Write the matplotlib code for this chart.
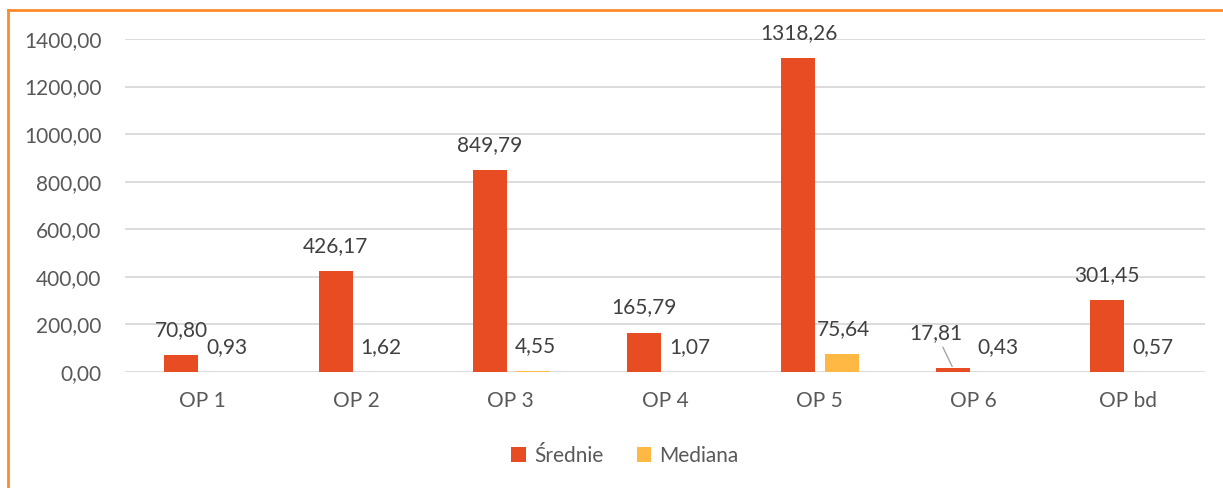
"""Wykres: średnie i mediany dla grup OP"""
import matplotlib.pyplot as plt
import numpy as np
from matplotlib.lines import Line2D

plt.rcParams['font.family'] = ['Lato', 'DejaVu Sans']

# Dane
kategorie = ['OP 1', 'OP 2', 'OP 3', 'OP 4', 'OP 5', 'OP 6', 'OP bd']
srednie = [70.80, 426.17, 849.79, 165.79, 1318.26, 17.81, 301.45]
mediana = [0.93, 1.62, 4.55, 1.07, 75.64, 0.43, 0.57]


def fmt(v):
    return f'{v:.2f}'.replace('.', ',')


fig = plt.figure(figsize=(12.23, 4.88), dpi=100)
ax = fig.add_axes([125 / 1223, 1 - 372 / 488, 1080 / 1223, 333 / 488])

x = np.arange(len(kategorie))
szer = 0.22
kol_sr = '#E84C22'
kol_me = '#FFB844'

b1 = ax.bar(x - 0.135, srednie, width=szer, color=kol_sr, label='Średnie', zorder=3)
b2 = ax.bar(x + 0.145, mediana, width=szer, color=kol_me, label='Mediana', zorder=3)

ax.set_xlim(-0.5, len(kategorie) - 0.5)
ax.set_ylim(0, 1400)
ax.set_yticks(np.arange(0, 1401, 200))
ax.set_yticklabels([fmt(v) for v in np.arange(0, 1401, 200)])
ax.set_xticks(x)
ax.set_xticklabels(kategorie)
ax.tick_params(axis='both', length=0, colors='#595959', labelsize=15)
ax.tick_params(axis='y', pad=17)
ax.tick_params(axis='x', pad=14)
ax.grid(axis='y', color='#D9D9D9', linewidth=1.3, zorder=0)
for s in ax.spines.values():
    s.set_visible(False)

# Etykiety danych
for i, v in enumerate(srednie):
    if kategorie[i] == 'OP 6':
        ax.annotate(fmt(v), xy=(x[i] - 0.135, v), xytext=(-12, 25),
                    textcoords='offset points', ha='center', va='center',
                    fontsize=15, color='#404040',
                    arrowprops=dict(arrowstyle='-', color='#A6A6A6', lw=1,
                                    shrinkA=1, shrinkB=1))
    else:
        ax.annotate(fmt(v), xy=(x[i] - 0.135, v), xytext=(0, 18),
                    textcoords='offset points', ha='center', va='center',
                    fontsize=15, color='#404040')
for i, v in enumerate(mediana):
    ax.annotate(fmt(v), xy=(x[i] + 0.16, v), xytext=(0, 18),
                textcoords='offset points', ha='center', va='center',
                fontsize=15, color='#404040')

fig.legend(handles=[b1, b2], loc='center', bbox_to_anchor=(625 / 1223, 1 - 456 / 488),
           ncol=2, frameon=False, fontsize=15, labelcolor='#595959',
           handlelength=0.7, handleheight=0.7, handletextpad=0.4, columnspacing=1.6)

# Pomarańczowa ramka (lewa i górna krawędź)
fig.add_artist(Line2D([8 / 1223, 8 / 1223], [0, 1 - 10 / 488], color='#FF8A2B', lw=2))
fig.add_artist(Line2D([8 / 1223, 1], [1 - 10 / 488, 1 - 10 / 488], color='#FF8A2B', lw=2))

fig.savefig('out.png', dpi=100)
